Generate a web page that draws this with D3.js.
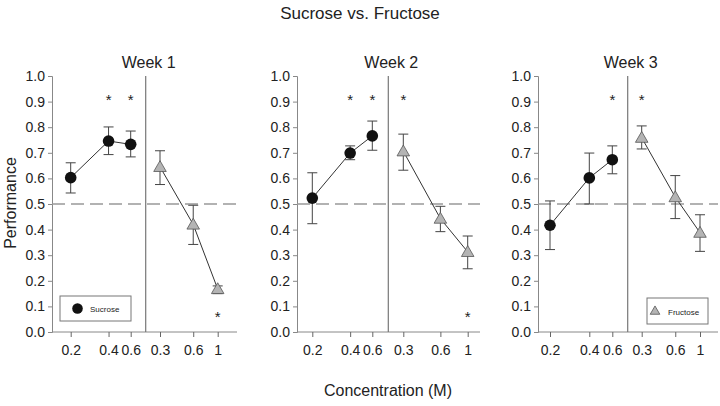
<!DOCTYPE html>
<html>
<head>
<meta charset="utf-8">
<script src="https://cdn.jsdelivr.net/npm/d3@7"></script>
<style>
  body { margin: 0; background: #fff; }
  text { font-family: "Liberation Sans", Arial, sans-serif; fill: #222; }
</style>
</head>
<body>
<script>
// values
const weeks = ["Week 1", "Week 2", "Week 3"]
const sucroseConc = [0.2, 0.4, 0.6]
const fructoseConc = [0.3, 0.6, 1]
const yTicks = [0, 0.1, 0.2, 0.3, 0.4, 0.5, 0.6, 0.7, 0.8, 0.9, 1.0]

const sucroseMean = [[0.603, 0.746, 0.733], [0.523, 0.699, 0.766], [0.417, 0.602, 0.673]]
const sucroseHi   = [[0.661, 0.801, 0.785], [0.622, 0.727, 0.824], [0.512, 0.699, 0.727]]
const sucroseLo   = [[0.543, 0.693, 0.684], [0.423, 0.673, 0.710], [0.322, 0.500, 0.618]]

const fructoseMean = [[0.645, 0.420, 0.168], [0.706, 0.443, 0.313], [0.759, 0.527, 0.388]]
const fructoseHi   = [[0.708, 0.495, 0.180], [0.773, 0.491, 0.375], [0.805, 0.611, 0.458]]
const fructoseLo   = [[0.576, 0.342, 0.150], [0.632, 0.392, 0.247], [0.715, 0.443, 0.315]]

// significance stars: value at which the star sits, null = none
const sucroseStar  = [[null, 0.914, 0.914], [null, 0.914, 0.914], [null, null, 0.914]]
const fructoseStar = [[null, null, 0.065], [0.914, null, 0.065], [0.914, null, null]]

const chance = 0.5

// layout
const W = 720, H = 406
const yTop = 76, yBot = 332
const panels = [
  {ax: 52,  suc: [70.7, 130.7], fru: [160, 217.7], div: 145.7, end: 237},
  {ax: 297, suc: [312.3, 372.3], fru: [403.3, 467.7], div: 388.3, end: 480},
  {ax: 538, suc: [550, 612.3], fru: [641.7, 700], div: 627.7, end: 718}
]

const svg = d3.select('body').append('svg')
  .attr('width', W).attr('height', H)

const y = d3.scaleLinear().domain([0, 1]).range([yBot, yTop])

svg.append('text').attr('x', 360).attr('y', 19).attr('text-anchor', 'middle')
  .style('font-size', '17px').text('Sucrose vs. Fructose')
svg.append('text').attr('x', 388).attr('y', 396).attr('text-anchor', 'middle')
  .style('font-size', '16px').text('Concentration (M)')
svg.append('text').attr('transform', 'translate(16,203) rotate(-90)').attr('text-anchor', 'middle')
  .style('font-size', '16px').text('Performance')

const tri = d3.symbol().type(d3.symbolTriangle).size(68)

panels.forEach((p, i) => {
  const g = svg.append('g')
  const xs = d3.scaleLog().domain([0.2, 0.6]).range(p.suc)
  const xf = d3.scaleLog().domain([0.3, 1]).range(p.fru)

  g.append('text').attr('x', p.div + 3).attr('y', 68).attr('text-anchor', 'middle')
    .style('font-size', '16px').text(weeks[i])

  // y axis with minor ticks
  const gy = g.append('g').attr('transform', `translate(${p.ax},0)`)
  gy.call(d3.axisLeft(y).tickValues(d3.range(0, 1.001, 0.02)).tickSize(2.5).tickFormat(''))
  gy.call(d3.axisLeft(y).tickValues(yTicks).tickSize(4).tickFormat(d3.format('.1f')))
  gy.selectAll('path, line').attr('stroke', '#888')
  gy.selectAll('text').style('font-size', '14px').style('fill', '#222')
    .style('font-family', '"Liberation Sans", Arial, sans-serif').attr('x', -7)

  // x axis
  g.append('line').attr('x1', p.ax).attr('x2', p.end).attr('y1', yBot).attr('y2', yBot)
    .attr('stroke', '#888')
  ;[[xs, sucroseConc], [xf, fructoseConc]].forEach(([sc, vals]) => {
    const gx = g.append('g').attr('transform', `translate(0,${yBot})`)
      .call(d3.axisBottom(sc).tickValues(vals).tickSize(5).tickFormat(d3.format('')))
    gx.select('.domain').remove()
    gx.selectAll('line').attr('stroke', '#666')
    gx.selectAll('text').style('font-size', '14px').style('fill', '#222')
      .style('font-family', '"Liberation Sans", Arial, sans-serif').attr('dy', '1.05em')
  })

  // divider
  g.append('line').attr('x1', p.div).attr('x2', p.div).attr('y1', y(1)).attr('y2', yBot)
    .attr('stroke', '#777').attr('stroke-width', 1.2)

  // chance line
  g.append('line').attr('x1', p.ax).attr('x2', p.end).attr('y1', y(chance)).attr('y2', y(chance))
    .attr('stroke', '#999').attr('stroke-width', 1.5).attr('stroke-dasharray', '13,6')

  const sData = sucroseConc.map((c, j) => ({x: xs(c), m: sucroseMean[i][j], hi: sucroseHi[i][j], lo: sucroseLo[i][j], s: sucroseStar[i][j]}))
  const fData = fructoseConc.map((c, j) => ({x: xf(c), m: fructoseMean[i][j], hi: fructoseHi[i][j], lo: fructoseLo[i][j], s: fructoseStar[i][j]}))

  const line = d3.line().x(d => d.x).y(d => y(d.m))
  ;[sData, fData].forEach(data => {
    g.append('path').datum(data).attr('d', line).attr('fill', 'none').attr('stroke', '#333')
    const eb = g.selectAll(null).data(data).enter().append('g').attr('stroke', '#444')
    eb.append('line').attr('x1', d => d.x).attr('x2', d => d.x).attr('y1', d => y(d.hi)).attr('y2', d => y(d.lo))
    eb.append('line').attr('x1', d => d.x - 5).attr('x2', d => d.x + 5).attr('y1', d => y(d.hi)).attr('y2', d => y(d.hi))
    eb.append('line').attr('x1', d => d.x - 5).attr('x2', d => d.x + 5).attr('y1', d => y(d.lo)).attr('y2', d => y(d.lo))
    g.selectAll(null).data(data.filter(d => d.s != null)).enter().append('text')
      .attr('x', d => d.x).attr('y', d => y(d.s) + 7).attr('text-anchor', 'middle')
      .style('font-size', '15px').text('*')
  })

  g.selectAll(null).data(sData).enter().append('circle')
    .attr('cx', d => d.x).attr('cy', d => y(d.m)).attr('r', 5.8).attr('fill', '#111')
  g.selectAll(null).data(fData).enter().append('path')
    .attr('d', tri).attr('transform', d => `translate(${d.x},${y(d.m) + 1})`)
    .attr('fill', '#b4b4b4').attr('stroke', '#555').attr('stroke-width', 0.8)
})

// legends
const leg1 = svg.append('g').attr('transform', 'translate(60,296)')
leg1.append('rect').attr('width', 71).attr('height', 25).attr('fill', '#fff').attr('stroke', '#777')
leg1.append('circle').attr('cx', 17.5).attr('cy', 12.5).attr('r', 5.3).attr('fill', '#111')
leg1.append('text').attr('x', 30).attr('y', 15.5).style('font-size', '8px').text('Sucrose')

const leg3 = svg.append('g').attr('transform', 'translate(647,298)')
leg3.append('rect').attr('width', 61).attr('height', 26).attr('fill', '#fff').attr('stroke', '#777')
leg3.append('path').attr('d', d3.symbol().type(d3.symbolTriangle).size(40))
  .attr('transform', 'translate(8,13.5)').attr('fill', '#b4b4b4').attr('stroke', '#555').attr('stroke-width', 0.8)
leg3.append('text').attr('x', 21).attr('y', 16.5).style('font-size', '8px').text('Fructose')
</script>
</body>
</html>
